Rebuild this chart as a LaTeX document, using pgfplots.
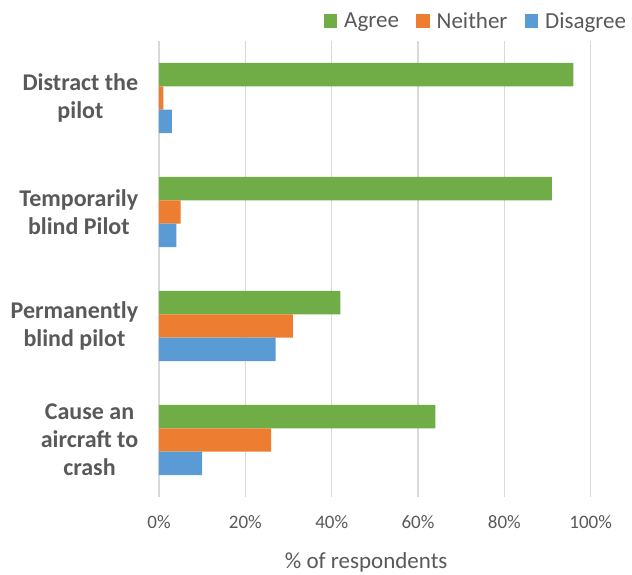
\documentclass[border=0pt]{standalone}
\usepackage{pgfplots}
\pgfplotsset{compat=1.18}
\usepackage{fontspec}
\setmainfont{Carlito}

\definecolor{agree}{HTML}{70AD47}
\definecolor{neither}{HTML}{ED7D31}
\definecolor{disagree}{HTML}{5B9BD5}
\definecolor{txt}{HTML}{595959}
\definecolor{gridc}{HTML}{D9D9D9}

\begin{document}
\begin{tikzpicture}[x=1pt,y=1pt]
\useasboundingbox (0,0) rectangle (632,575);
\begin{axis}[
  at={(159pt,78pt)}, anchor=south west,
  width=431.7pt, height=456pt, scale only axis,
  xmin=0, xmax=100, ymin=-0.5, ymax=3.5,
  xbar, bar width=0.206,
  axis line style={draw=none},
  tick style={draw=none},
  xmajorgrids, grid style={gridc, line width=1.4pt},
  xtick={0,20,40,60,80,100},
  xticklabel={\pgfmathprintnumber{\tick}\%},
  xticklabel style={font=\fontsize{19}{23}\selectfont, text=txt, yshift=-15pt},
  /pgf/number format/assume math mode=true,
  ytick={0,1,2,3},
  yticklabels={{Cause an\\aircraft to\\crash},{Permanently\\blind pilot},{Temporarily\\blind Pilot},{Distract the\\pilot}},
  yticklabel style={font=\fontsize{24}{28}\selectfont\bfseries, text=txt, align=center, xshift=-13pt},
  xlabel={\% of respondents},
  xlabel style={font=\fontsize{23}{28}\selectfont, text=txt, at={(axis description cs:0.48,0)}, anchor=north, yshift=-52pt},
  legend columns=3,
  legend style={draw=none, at={(axis description cs:1.094,1.015)}, anchor=south east,
    font=\fontsize{23}{28}\selectfont, text=txt,
    /tikz/every odd column/.append style={column sep=5pt},
    /tikz/every even column/.append style={column sep=15pt}},
  legend image code/.code={\fill[#1] (0pt,-7pt) rectangle (13.7pt,7pt);},
]
\addplot[draw=none, fill=agree, bar shift=0.206] coordinates {(64,0) (42,1) (91,2) (96,3)};
\addplot[draw=none, fill=neither, bar shift=0] coordinates {(26,0) (31,1) (5,2) (1,3)};
\addplot[draw=none, fill=disagree, bar shift=-0.206] coordinates {(10,0) (27,1) (4,2) (3,3)};
\legend{Agree,Neither,Disagree}
\end{axis}
\end{tikzpicture}
\end{document}
